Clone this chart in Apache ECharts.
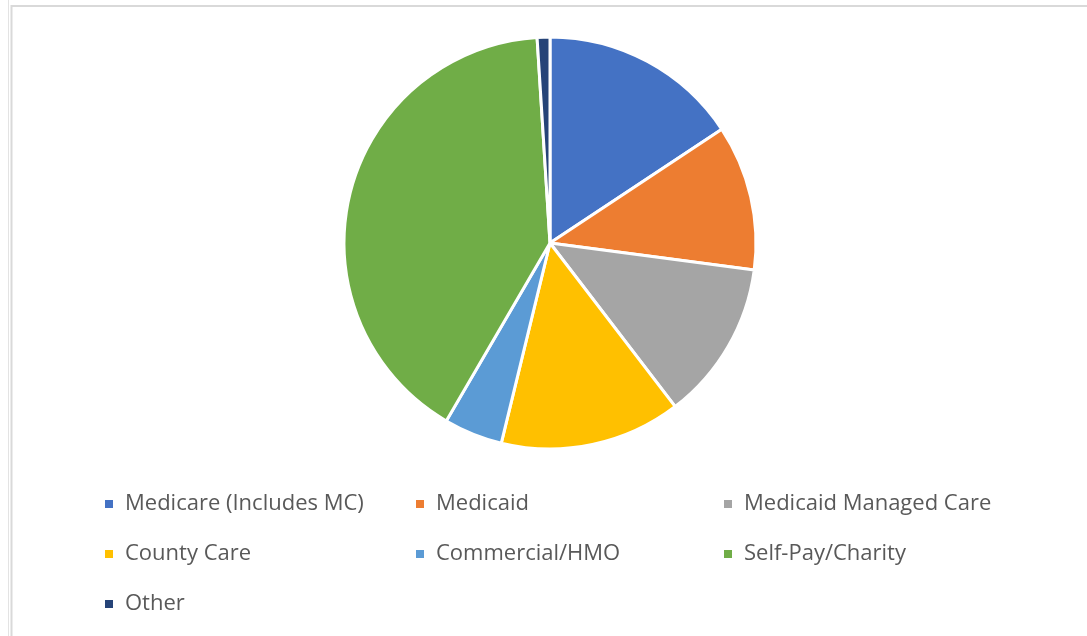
<!DOCTYPE html>
<html>
<head>
<meta charset="utf-8">
<script src="https://cdn.jsdelivr.net/npm/echarts@6/dist/echarts.min.js"></script>
<style>
html, body { margin: 0; padding: 0; background: #fff; }
#main { width: 1087px; height: 636px; }
</style>
</head>
<body>
<div id="main"></div>
<script>
var categories = ['Medicare (Includes MC)', 'Medicaid', 'Medicaid Managed Care', 'County Care', 'Commercial/HMO', 'Self-Pay/Charity', 'Other'];
var values = [15.7, 11.4, 12.5, 14.2, 4.6, 40.6, 1.0];
var colors = ['#4472C4', '#ED7D31', '#A5A5A5', '#FFC000', '#5B9BD5', '#70AD47', '#264478'];

var myChart = echarts.init(document.getElementById('main'));

var legendBase = {
    orient: 'vertical',
    top: 488,
    itemGap: 28,
    itemWidth: 10,
    itemHeight: 10,
    icon: 'rect',
    textStyle: { fontFamily: 'Open Sans', fontSize: 22, lineHeight: 22, color: '#595959', padding: [0, 0, 0, 6] }
};

option = {
    color: colors,
    animation: false,
    legend: [
        Object.assign({}, legendBase, { left: 98, data: [categories[0], categories[3], categories[6]] }),
        Object.assign({}, legendBase, { left: 409, data: [categories[1], categories[4]] }),
        Object.assign({}, legendBase, { left: 717, data: [categories[2], categories[5]] })
    ],
    graphic: [
        { type: 'line', shape: { x1: 8.5, y1: 0, x2: 8.5, y2: 636 }, style: { stroke: '#e3e3e3', lineWidth: 1 } },
        { type: 'line', shape: { x1: 11.5, y1: 5, x2: 11.5, y2: 636 }, style: { stroke: '#d9d9d9', lineWidth: 2 } },
        { type: 'line', shape: { x1: 11, y1: 6, x2: 1087, y2: 6 }, style: { stroke: '#d9d9d9', lineWidth: 2 } }
    ],
    series: [
        {
            name: 'Payer Mix',
            type: 'pie',
            radius: 206,
            center: [550, 243],
            startAngle: 90,
            clockwise: true,
            label: { show: false },
            labelLine: { show: false },
            itemStyle: { borderColor: '#ffffff', borderWidth: 3 },
            data: categories.map(function (c, i) { return { name: c, value: values[i] }; })
        }
    ]
};

myChart.setOption(option);
</script>
</body>
</html>
